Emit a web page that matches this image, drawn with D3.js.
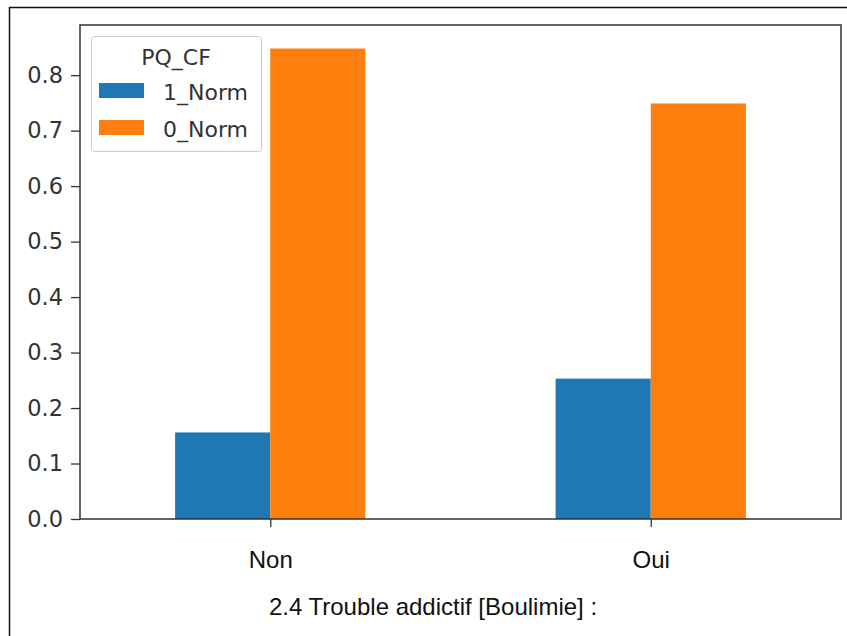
<!DOCTYPE html>
<html><head><meta charset="utf-8">
<script src="https://cdn.jsdelivr.net/npm/d3@7"></script>
<style>body{margin:0;background:#fff}svg{display:block}</style>
</head><body>
<script>
const categories = ["Non", "Oui"];
const seriesNames = ["1_Norm", "0_Norm"];
const norm1 = [0.156, 0.253];
const norm0 = [0.848, 0.749];
const yTicks = [0.0, 0.1, 0.2, 0.3, 0.4, 0.5, 0.6, 0.7, 0.8];
const colors = ["#1f77b4", "#ff7f0e"];
const legendTitle = "PQ_CF";
const xTitle = "2.4 Trouble addictif [Boulimie] :";

const W = 847, H = 636;
const L = 80, R = 841, T = 25, B = 519;
const svg = d3.select("body").append("svg").attr("width", W).attr("height", H);

// outer frame
svg.append("path").attr("d", `M9.5,${H} L9.5,7.5 L${W},7.5`).attr("fill","none").attr("stroke","#111").attr("stroke-width",1.5);

const ymax = d3.max([...norm1, ...norm0]) * 1.05;
const y = d3.scaleLinear().domain([0, ymax]).range([B, T]);
const x = d3.scaleLinear().domain([-0.5, categories.length - 0.5]).range([L, R]);
const bw = 0.25;
const series = [norm1, norm0];

series.forEach((vals, si) => {
  svg.append("g").selectAll("rect").data(vals).join("rect")
    .attr("x", (d, i) => x(i - bw + si * bw))
    .attr("width", (d, i) => x(i + bw * (si)) - x(i - bw + si * bw) )
    .attr("y", d => y(d))
    .attr("height", d => B - y(d))
    .attr("fill", colors[si]);
});

// y axis
const yAxis = svg.append("g").attr("transform", `translate(${L},0)`)
  .call(d3.axisLeft(y).tickValues(yTicks).tickFormat(d3.format(".1f")).tickSizeOuter(0).tickSize(9).tickPadding(8));
yAxis.select(".domain").remove();
yAxis.selectAll("line").attr("stroke", "#333").attr("stroke-width", 1.3);
yAxis.selectAll("text").attr("font-family", "DejaVu Sans").attr("font-size", 22.5).attr("fill", "#333");

// x axis
const xAxis = svg.append("g").attr("transform", `translate(0,${B})`)
  .call(d3.axisBottom(x).tickValues(categories.map((d, i) => i)).tickFormat(i => categories[i]).tickSize(8).tickSizeOuter(0).tickPadding(24));
xAxis.select(".domain").remove();
xAxis.selectAll("line").attr("stroke", "#333").attr("stroke-width", 1.3);
xAxis.selectAll("text").attr("font-family", "Liberation Sans, Arial").attr("font-size", 24).attr("fill", "#111");

// spines
svg.append("rect").attr("x", L).attr("y", T).attr("width", R - L).attr("height", B - T)
  .attr("fill", "none").attr("stroke", "#333").attr("stroke-width", 1.5);

// x title
svg.append("text").attr("x", 433).attr("y", 615).attr("text-anchor", "middle")
  .attr("font-family", "Liberation Sans, Arial").attr("font-size", 24).attr("fill", "#111").text(xTitle);

// legend
const lg = svg.append("g");
lg.append("rect").attr("x", 91.5).attr("y", 36.5).attr("width", 170).attr("height", 115).attr("rx", 3)
  .attr("fill", "#fff").attr("fill-opacity", 0.8).attr("stroke", "#ccc").attr("stroke-width", 1);
lg.append("text").attr("x", 176).attr("y", 65).attr("text-anchor", "middle")
  .attr("font-family", "DejaVu Sans").attr("font-size", 22).attr("fill", "#333").text(legendTitle);
seriesNames.forEach((n, i) => {
  lg.append("rect").attr("x", 99).attr("y", 83 + i * 37).attr("width", 45).attr("height", 15).attr("fill", colors[i]);
  lg.append("text").attr("x", 163).attr("y", 100 + i * 37)
    .attr("font-family", "DejaVu Sans").attr("font-size", 22).attr("fill", "#333").text(n);
});
</script>
</body></html>
